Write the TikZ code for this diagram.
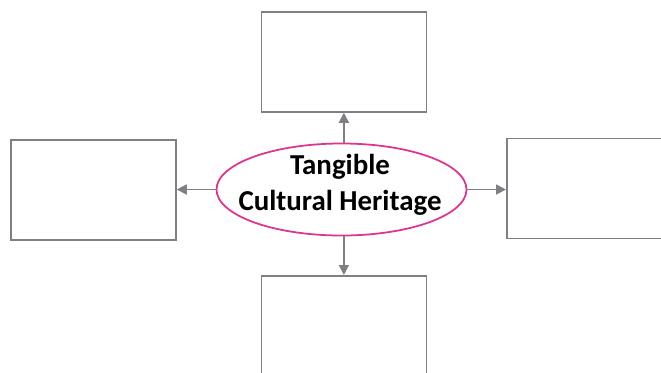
\documentclass[tikz,border=0pt]{standalone}
\usepackage{fontspec}
\setmainfont{Carlito}
\usetikzlibrary{arrows.meta,shapes.geometric}
\definecolor{linegray}{RGB}{128,128,132}
\definecolor{pinkline}{RGB}{225,50,140}
\begin{document}
\begin{tikzpicture}[x=1bp,y=-1bp,
  box/.style={draw=linegray,line width=1.75bp,fill=white,minimum width=165bp,minimum height=100bp,inner sep=0pt,anchor=north west},
  hub/.style={ellipse,draw=pinkline,line width=1.75bp,minimum width=250bp,minimum height=92bp,inner sep=0pt},
  hubtext/.style={font=\bfseries\fontsize{29}{36}\selectfont,align=center,inner sep=0pt},
  link/.style={draw=linegray,line width=1.75bp,-{Triangle[length=10bp,width=10bp]}}]
\useasboundingbox (0,0) rectangle (661,372);
\clip (0,0) rectangle (661,372);
\node[box] (top) at (260.5,11) {};
\node[box] (left) at (10,139) {};
\node[box,minimum width=170bp] (right) at (506,137.5) {};
\node[box,minimum height=110bp] (bottom) at (260.5,275) {};
\node[hub] (c) at (341.5,189.5) {};
\node[hubtext] (t) at (340,185) {Tangible\\Cultural Heritage};
\draw[link] (c.north -| top.south) -- (top.south);
\draw[link] (c.south -| bottom.north) -- (bottom.north);
\draw[link] (c.west) -- (c.west -| left.east);
\draw[link] (c.east) -- (c.east -| right.west);
\end{tikzpicture}
\end{document}
